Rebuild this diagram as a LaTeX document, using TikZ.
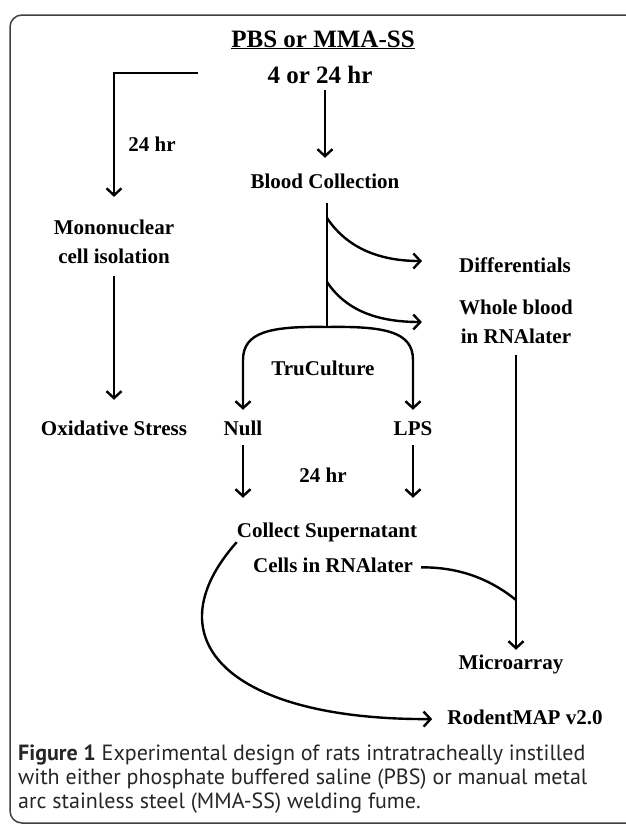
\documentclass[tikz,border=0pt]{standalone}
\usepackage{fontspec}
\setmainfont{Liberation Serif}
\newfontfamily\capfont{PT Sans}
\usetikzlibrary{positioning, calc, arrows.meta}

\begin{document}
\begin{tikzpicture}[
    x=1pt, y=-1pt,
    lbl/.style={font=\bfseries\fontsize{21}{29}\selectfont, align=center, inner sep=0pt},
    one/.style={lbl, text height=15pt, text depth=5pt},
    big/.style={font=\bfseries\fontsize{25}{30}\selectfont, inner sep=0pt, text height=18pt, text depth=6pt},
    arr/.style={line width=2.4pt, -{Straight Barb[length=7pt, width=15pt]}},
    ln/.style={line width=2.4pt},
    frame/.style={draw=black!75, line width=1.5pt, rounded corners=12pt}
  ]
  \useasboundingbox (0,0) rectangle (625,825);
  \draw[frame] (640,15) -- (10,15) -- (10,823) -- (640,823);

  \node[big] (pbs) at (323,41) {\underline{PBS or MMA-SS}};
  \node[big] (hr4) at (320,77) {4 or 24 hr};
  \coordinate (bk) at (198,73);
  \node[lbl] (mono) at (114,242) {Mononuclear\\cell isolation};
  \node[one] (hr24a) at (152,146) {24 hr};
  \node[one] (blood) at (325,183) {Blood Collection};
  \node[one] (oxid) at (114,430) {Oxidative Stress};

  \coordinate (b1) at (327,218);
  \coordinate (b2) at (327,282);
  \coordinate (archtop) at (327,327);
  \node[one] (diff) at (515,267) {Differentials};
  \node[lbl] (whole) at (516,322) {Whole blood\\in RNAlater};

  \node[one] (cult) at (323,370) {TruCulture};
  \node[one] (null) at (243,430) {Null};
  \node[one] (lps) at (413,430) {LPS};
  \node[one] (hr24b) at (323,477) {24 hr};
  \node[one] (collect) at (327,532) {Collect Supernatant};
  \node[one] (cells) [below=15pt of collect, xshift=6pt] {Cells in RNAlater};
  \coordinate (jn) at (516,600);
  \node[one] (micro) at (511,664) {Microarray};
  \node[one] (rodent) at (525,719) {RodentMAP v2.0};

  \node[anchor=north west, inner sep=0pt, align=left, text=black!85,
    font=\capfont\fontsize{22}{24}\selectfont] (cap) at (18,745)
    {\textbf{Figure 1} Experimental design of rats intratracheally instilled\\
     with either phosphate buffered saline (PBS) or manual metal\\
     arc stainless steel (MMA-SS) welding fume.};

  % left branch
  \draw[arr, shorten >=23pt] (bk) -| (mono.north);
  \draw[arr, shorten <=12pt, shorten >=20pt] (mono.south) -- (oxid.north);

  % blood collection
  \draw[arr, shorten <=1pt, shorten >=15pt] (hr4.south -| blood) -- (blood.north);
  \draw[ln, shorten <=10pt] (blood.south -| archtop) -- (archtop);
  \draw[arr, shorten >=37pt] (b1) .. controls (345,245) and (375,261) .. ([yshift=6pt]diff.west);
  \draw[arr, shorten >=37pt] (b2) .. controls (345,309) and (375,322) .. (whole.west);

  % truculture
  \draw[arr, shorten >=10pt] (archtop) .. controls (270,326) and (243,332) .. (243,360) -- (null.north);
  \draw[arr, shorten >=10pt] (archtop) .. controls (386,326) and (413,332) .. (413,360) -- (lps.north);
  \draw[arr, shorten <=5pt, shorten >=24pt] (null.south) -- (null.south |- collect.north);
  \draw[arr, shorten <=5pt, shorten >=24pt] (lps.south) -- (lps.south |- collect.north);

  % outputs
  \draw[arr, shorten <=11pt, shorten >=4pt] (whole.south) -- (whole.south |- micro.north);
  \draw[ln, shorten <=8pt] (cells.east) .. controls (465,567) and (495,583) .. (jn);
  \draw[arr, shorten >=15pt] (collect.south west) .. controls (150,640) and (230,720) .. (rodent.west);

\end{tikzpicture}
\end{document}
